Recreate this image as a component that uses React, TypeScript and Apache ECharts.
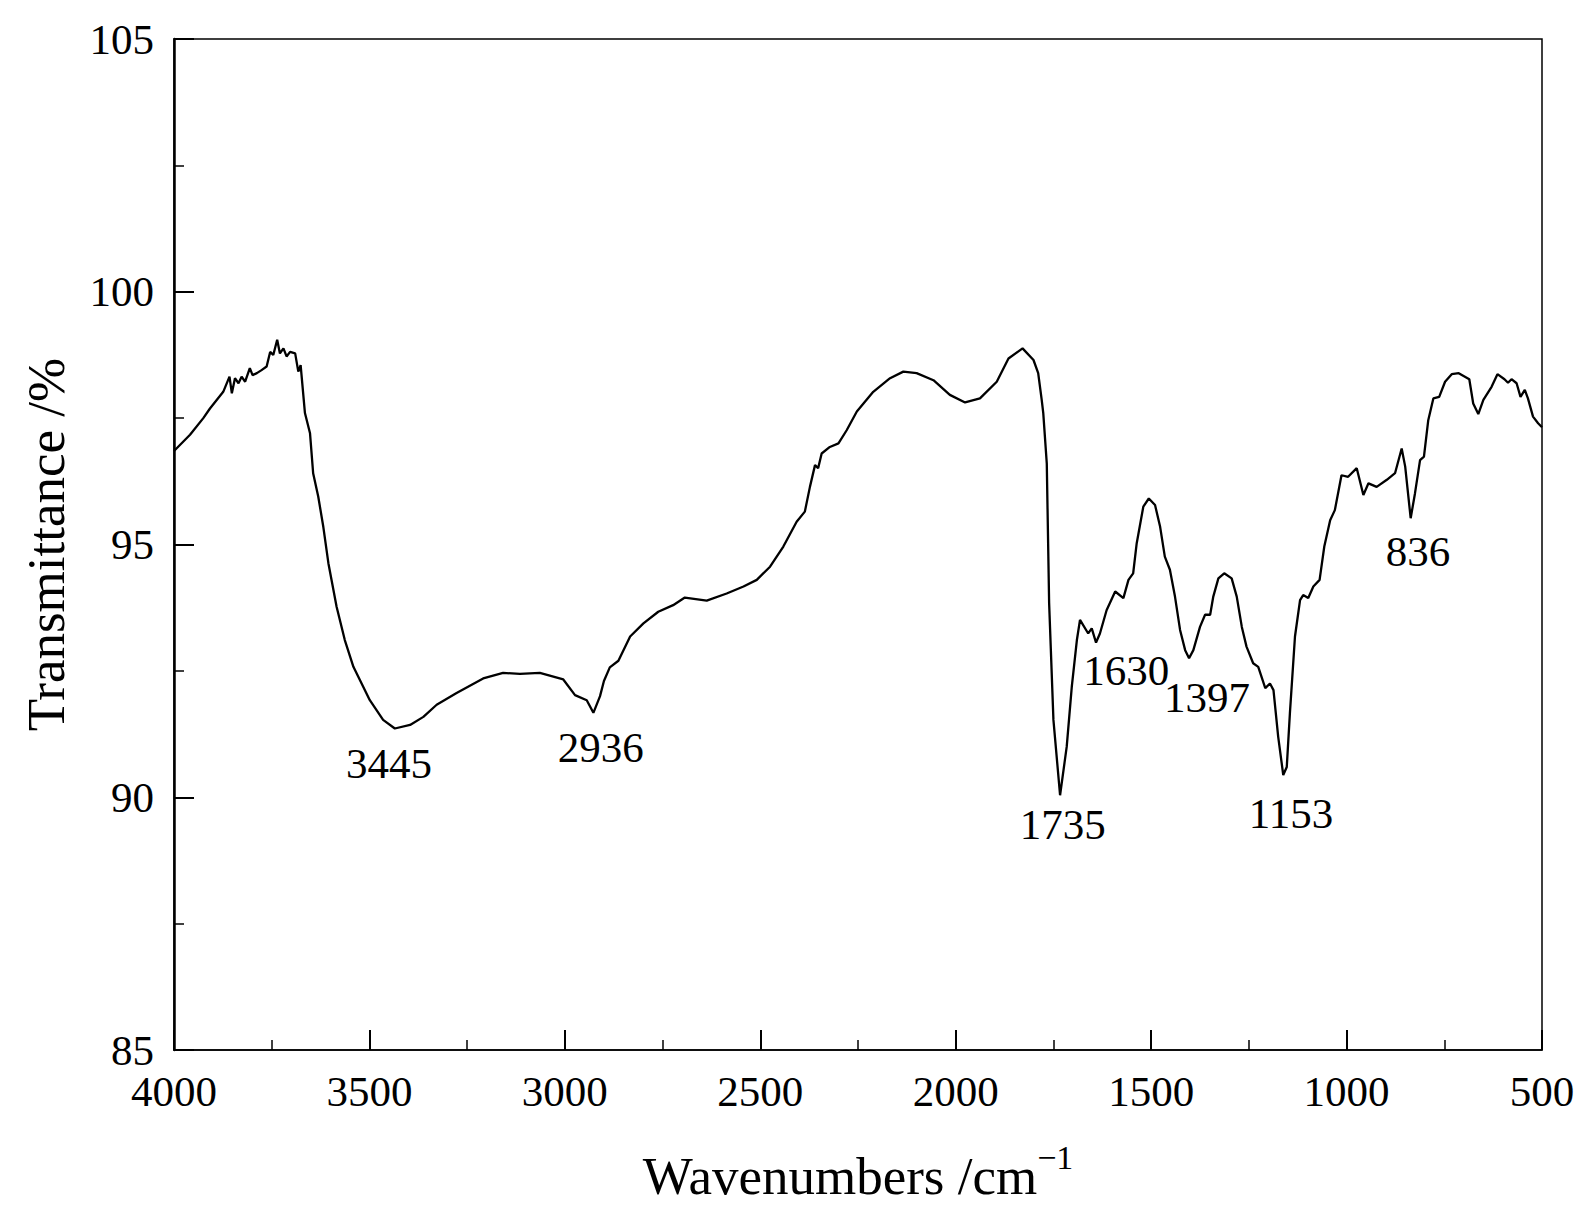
import React, { useEffect, useRef } from "react";
import * as echarts from "echarts";

const FONT = '"Liberation Serif", "Times New Roman", serif';

// Spectrum (wavenumber in cm^-1, transmittance in %)
const wavenumbers = [
  4000, 3959, 3925, 3908, 3874, 3858, 3852, 3844, 3835, 3827, 3818, 3806, 3799, 3788, 3776, 3763,
  3754, 3746, 3736, 3729, 3720, 3712, 3703, 3690, 3682, 3676, 3665, 3652, 3644, 3631, 3618, 3605,
  3584, 3563, 3541, 3520, 3499, 3465, 3435, 3396, 3362, 3328, 3277, 3209, 3158, 3115, 3064, 3004,
  2974, 2944, 2927, 2910, 2900, 2885, 2863, 2833, 2799, 2761, 2723, 2693, 2637, 2586, 2543, 2509,
  2475, 2441, 2407, 2386, 2373, 2360, 2352, 2343, 2322, 2300, 2279, 2253, 2211, 2168, 2134, 2100,
  2057, 2015, 1976, 1938, 1895, 1865, 1829, 1801, 1789, 1780, 1776, 1767, 1761, 1750, 1733, 1716,
  1703, 1690, 1682, 1661, 1652, 1641, 1631, 1614, 1592, 1571, 1558, 1546, 1537, 1520, 1506, 1490,
  1477, 1465, 1452, 1439, 1426, 1413, 1403, 1392, 1375, 1362, 1349, 1341, 1328, 1313, 1294, 1281,
  1268, 1256, 1239, 1226, 1208, 1196, 1187, 1175, 1162, 1153, 1145, 1132, 1119, 1111, 1098, 1085,
  1069, 1057, 1042, 1030, 1013, 996, 974, 957, 944, 923, 897, 876, 859, 850, 836, 825,
  812, 802, 791, 778, 763, 748, 731, 713, 686, 676, 663, 650, 629, 614, 596, 587,
  578, 565, 555, 544, 536, 523, 510, 500,
];
const transmittance = [
  96.85, 97.17, 97.5, 97.69, 98.02, 98.32, 97.99, 98.29, 98.19, 98.32, 98.22, 98.49, 98.35, 98.39, 98.45, 98.52,
  98.81, 98.75, 99.05, 98.78, 98.88, 98.72, 98.81, 98.78, 98.42, 98.55, 97.6, 97.2, 96.41, 95.95, 95.35, 94.63,
  93.77, 93.11, 92.58, 92.25, 91.92, 91.53, 91.36, 91.43, 91.59, 91.83, 92.06, 92.35, 92.46, 92.44, 92.46, 92.33,
  92.02, 91.92, 91.67, 92.0, 92.3, 92.57, 92.7, 93.18, 93.44, 93.67, 93.8, 93.95, 93.89, 94.03, 94.17, 94.3,
  94.56, 94.96, 95.45, 95.65, 96.14, 96.57, 96.51, 96.8, 96.93, 97.0, 97.26, 97.63, 98.02, 98.29, 98.42, 98.39,
  98.25, 97.96, 97.81, 97.89, 98.22, 98.68, 98.88, 98.65, 98.39, 97.86, 97.6, 96.6, 93.84, 91.53, 90.04, 91.0,
  92.19, 93.11, 93.51, 93.24, 93.34, 93.06, 93.24, 93.7, 94.07, 93.94, 94.3, 94.43, 95.02, 95.75, 95.91, 95.78,
  95.35, 94.76, 94.5, 93.97, 93.31, 92.91, 92.75, 92.91, 93.37, 93.61, 93.61, 93.97, 94.33, 94.43, 94.33, 93.97,
  93.37, 92.98, 92.65, 92.58, 92.16, 92.25, 92.12, 91.2, 90.44, 90.6, 91.66, 93.18, 93.9, 94.0, 93.94, 94.17,
  94.3, 94.96, 95.48, 95.68, 96.37, 96.34, 96.51, 95.98, 96.21, 96.14, 96.28, 96.41, 96.9, 96.54, 95.52, 96.01,
  96.67, 96.74, 97.46, 97.89, 97.92, 98.22, 98.37, 98.39, 98.27, 97.79, 97.58, 97.86, 98.12, 98.37, 98.27, 98.2,
  98.27, 98.19, 97.92, 98.06, 97.89, 97.53, 97.4, 97.32,
];

// Peak annotations: text and the data position of the label centre
const peakLabels = ["3445", "2936", "1735", "1630", "1397", "1153", "836"];
const peakLabelX = [3450, 2908, 1726, 1564, 1357, 1142, 817];
const peakLabelY = [90.66, 90.99, 89.46, 92.5, 91.98, 89.67, 94.87];

const xTicks = { min: 500, max: 4000, interval: 500 };
const yTicks = { min: 85, max: 105, interval: 5 };

export default function App() {
  const ref = useRef<HTMLDivElement>(null);

  useEffect(() => {
    document.body.style.margin = "0";
    if (!ref.current) return;
    const chart = echarts.init(ref.current, null, { renderer: "svg" });

    const spectrum = wavenumbers.map((w, i) => [w, transmittance[i]]);
    const peaks = peakLabels.map((t, i) => [peakLabelX[i], peakLabelY[i], t]);

    const axisCommon = {
      type: "value" as const,
      splitLine: { show: false },
      axisTick: { show: true, inside: true, length: 20, lineStyle: { color: "#000", width: 2 } },
      minorTick: { show: true, splitNumber: 2, length: 10, lineStyle: { color: "#000", width: 1.5 } },
      minorSplitLine: { show: false },
      axisLabel: {
        color: "#000",
        fontFamily: FONT,
        fontSize: 43,
        margin: 20,
        formatter: (v: number) => String(v),
      },
    };

    chart.setOption({
      animation: false,
      backgroundColor: "#fff",
      grid: {
        left: 174,
        top: 39,
        width: 1368,
        height: 1011,
        show: true,
        borderColor: "#000",
        borderWidth: 1.5,
        backgroundColor: "transparent",
      },
      xAxis: {
        ...axisCommon,
        min: xTicks.min,
        max: xTicks.max,
        interval: xTicks.interval,
        inverse: true,
        position: "bottom",
        axisLine: { show: true, onZero: false, lineStyle: { color: "#000", width: 1.5 } },
        name: "{a|Wavenumbers /cm}{b|\u22121}",
        nameLocation: "middle",
        nameGap: 90,
        nameTextStyle: {
          rich: {
            a: { fontFamily: FONT, fontSize: 53, color: "#000", lineHeight: 72 },
            b: { fontFamily: FONT, fontSize: 34, color: "#000", lineHeight: 34, verticalAlign: "top" },
          },
        },
      },
      yAxis: {
        ...axisCommon,
        min: yTicks.min,
        max: yTicks.max,
        interval: yTicks.interval,
        axisLine: { show: true, onZero: false, lineStyle: { color: "#000", width: 2.5 } },
        name: "Transmittance /%",
        nameLocation: "middle",
        nameRotate: 90,
        nameGap: 102,
        nameTextStyle: { fontFamily: FONT, fontSize: 53, color: "#000" },
      },
      series: [
        {
          type: "line",
          data: spectrum,
          showSymbol: false,
          symbol: "none",
          lineStyle: { color: "#000", width: 2.3 },
          silent: true,
          z: 3,
        },
        {
          type: "scatter",
          data: peaks,
          symbolSize: 0,
          silent: true,
          itemStyle: { opacity: 1, color: "#000" },
          label: {
            show: true,
            position: "inside",
            formatter: (p: any) => p.data[2],
            fontFamily: FONT,
            fontSize: 43,
            color: "#000",
            opacity: 1,
          },
          emphasis: { disabled: true },
          z: 4,
        },
      ],
    });

    return () => chart.dispose();
  }, []);

  return <div ref={ref} style={{ width: 1592, height: 1219 }} />;
}
